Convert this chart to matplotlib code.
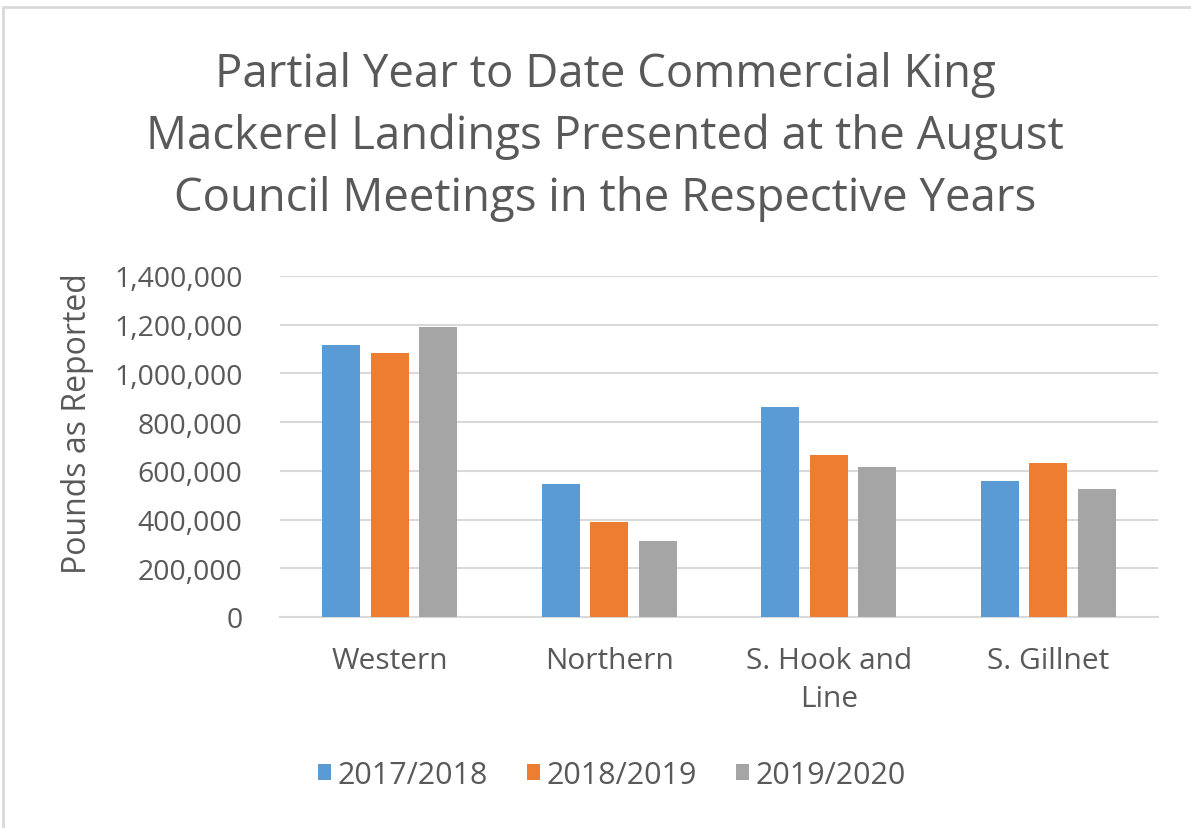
import matplotlib
matplotlib.use("Agg")
import matplotlib.pyplot as plt
from matplotlib.patches import Rectangle
import numpy as np

plt.rcParams['font.family'] = ['Open Sans', 'DejaVu Sans']

categories = ['Western', 'Northern', 'S. Hook and\nLine', 'S. Gillnet']
seasons = ['2017/2018', '2018/2019', '2019/2020']
landings_1718 = [1118000, 547000, 861000, 559000]
landings_1819 = [1082000, 392000, 667000, 633000]
landings_1920 = [1192000, 310000, 616000, 527000]
colors = ['#5B9BD5', '#ED7D31', '#A5A5A5']
text_col = '#595959'

fig = plt.figure(figsize=(11.91, 8.29), dpi=100)
ax = fig.add_axes([280 / 1191, 1 - 618 / 829, 878 / 1191, 341 / 829])

x = np.arange(len(categories))
w = 0.173
step = 0.221
for k, vals in enumerate([landings_1718, landings_1819, landings_1920]):
    ax.bar(x + (k - 1) * step, vals, width=w, color=colors[k], label=seasons[k], zorder=3)

ax.set_xlim(-0.5, len(categories) - 0.5)
ax.set_ylim(0, 1400000)
ax.set_yticks(np.arange(0, 1400001, 200000))
ax.yaxis.set_major_formatter(matplotlib.ticker.FuncFormatter(lambda v, p: f'{int(v):,}'))
ax.set_xticks(x)
ax.set_xticklabels(categories, linespacing=1.4)
ax.grid(axis='y', color='#D9D9D9', linewidth=1.5, zorder=0)
for s in ['top', 'right', 'left']:
    ax.spines[s].set_visible(False)
ax.spines['bottom'].set_color('#D9D9D9')
ax.spines['bottom'].set_linewidth(1.5)
ax.tick_params(axis='y', length=0, labelsize=20.5, labelcolor=text_col, pad=27)
ax.tick_params(axis='x', length=0, labelsize=21.5, labelcolor=text_col, pad=21)

fig.text(78 / 1191, 1 - 424 / 829, 'Pounds as Reported', rotation=90, ha='center', va='center',
         fontsize=23, color=text_col)

fig.text(605 / 1191, 1 - 137 / 829, 'Partial Year to Date Commercial King\nMackerel Landings Presented at the August\nCouncil Meetings in the Respective Years',
         ha='center', va='center', fontsize=32.8, color=text_col, linespacing=1.46)

fig.legend(loc='center', bbox_to_anchor=(612 / 1191, 1 - 776 / 829), ncol=3, frameon=False,
           fontsize=22, labelcolor=text_col, handlelength=0.42, handleheight=0.42,
           handletextpad=0.2, columnspacing=1.3, borderpad=0)

fig.patches.append(Rectangle((3 / 1191, -0.1), 1.2, 1 - 8 / 829 + 0.1, transform=fig.transFigure,
                             fill=False, edgecolor='#D9D9D9', linewidth=2))

fig.savefig('out.png', dpi=100)
